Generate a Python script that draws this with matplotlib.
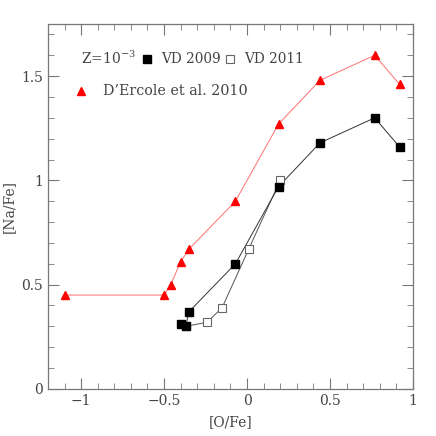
import matplotlib
matplotlib.use("Agg")
import matplotlib.pyplot as plt
from matplotlib.ticker import MultipleLocator

plt.rcParams["font.family"] = "DejaVu Serif"
plt.rcParams["mathtext.fontset"] = "dejavuserif"

# D'Ercole et al. 2010
dercole_ofe = [-1.10, -0.50, -0.46, -0.40, -0.35, -0.07, 0.19, 0.44, 0.77, 0.92]
dercole_nafe = [0.45, 0.45, 0.50, 0.61, 0.67, 0.90, 1.27, 1.48, 1.60, 1.46]

# VD 2009
vd09_ofe = [-0.40, -0.37, -0.35, -0.07, 0.19, 0.44, 0.77, 0.92]
vd09_nafe = [0.31, 0.30, 0.37, 0.60, 0.97, 1.18, 1.30, 1.16]

# VD 2011
vd11_ofe = [-0.37, -0.24, -0.15, 0.01, 0.20]
vd11_nafe = [0.30, 0.32, 0.39, 0.67, 1.00]

txt = "#444444"
grey = "#777777"

fig = plt.figure(figsize=(4.36, 4.36), dpi=100)
ax = fig.add_axes([0.110, 0.108, 0.837, 0.837])

ax.plot(dercole_ofe, dercole_nafe, color="#ff7070", lw=0.7, zorder=1)
ax.plot(dercole_ofe, dercole_nafe, ls="none", marker="^", ms=6.3,
        color="red", mec="red", zorder=3)
ax.plot(vd11_ofe, vd11_nafe, color="#555555", lw=0.7, zorder=1)
ax.plot(vd11_ofe, vd11_nafe, ls="none", marker="s", ms=5.5,
        mfc="white", mec="#666666", mew=0.8, zorder=3)
ax.plot(vd09_ofe, vd09_nafe, color="#333333", lw=0.7, zorder=1)
ax.plot(vd09_ofe, vd09_nafe, ls="none", marker="s", ms=6,
        color="black", zorder=4)

ax.set_xlim(-1.2, 1.0)
ax.set_ylim(0, 1.75)
ax.xaxis.set_minor_locator(MultipleLocator(0.1))
ax.yaxis.set_minor_locator(MultipleLocator(0.1))
ax.set_xticks([-1, -0.5, 0, 0.5, 1])
ax.set_xticklabels(["\u22121", "\u22120.5", "0", "0.5", "1"])
ax.set_yticks([0, 0.5, 1, 1.5])
ax.set_yticklabels(["0", "0.5", "1", "1.5"])
ax.tick_params(which="both", direction="in", top=True, right=True,
               colors=grey, labelcolor=txt, labelsize=10)
ax.tick_params(which="major", length=8, width=0.8)
ax.tick_params(which="minor", length=4, width=0.6)
for s in ax.spines.values():
    s.set_color(grey)
    s.set_linewidth(0.9)

ax.set_xlabel("[O/Fe]", color=txt, fontsize=10, labelpad=5)
ax.set_ylabel("[Na/Fe]", color=txt, fontsize=10, labelpad=4)

# legend drawn by hand
ax.text(0.091, 0.905, "Z=10$^{-3}$", transform=ax.transAxes,
        color=txt, fontsize=10, va="center")
ax.plot([0.272], [0.905], transform=ax.transAxes, ls="none", marker="s",
        ms=6, color="black")
ax.text(0.311, 0.905, "VD 2009", transform=ax.transAxes,
        color=txt, fontsize=9.8, va="center")
ax.plot([0.50], [0.905], transform=ax.transAxes, ls="none", marker="s",
        ms=5.5, mfc="white", mec="#666666", mew=0.8)
ax.text(0.537, 0.905, "VD 2011", transform=ax.transAxes,
        color=txt, fontsize=9.8, va="center")
ax.plot([0.09], [0.815], transform=ax.transAxes, ls="none", marker="^",
        ms=6.3, color="red")
ax.text(0.150, 0.815, "D\u2019Ercole et al. 2010", transform=ax.transAxes,
        color=txt, fontsize=10.3, va="center")

fig.savefig("out.png", dpi=100)
